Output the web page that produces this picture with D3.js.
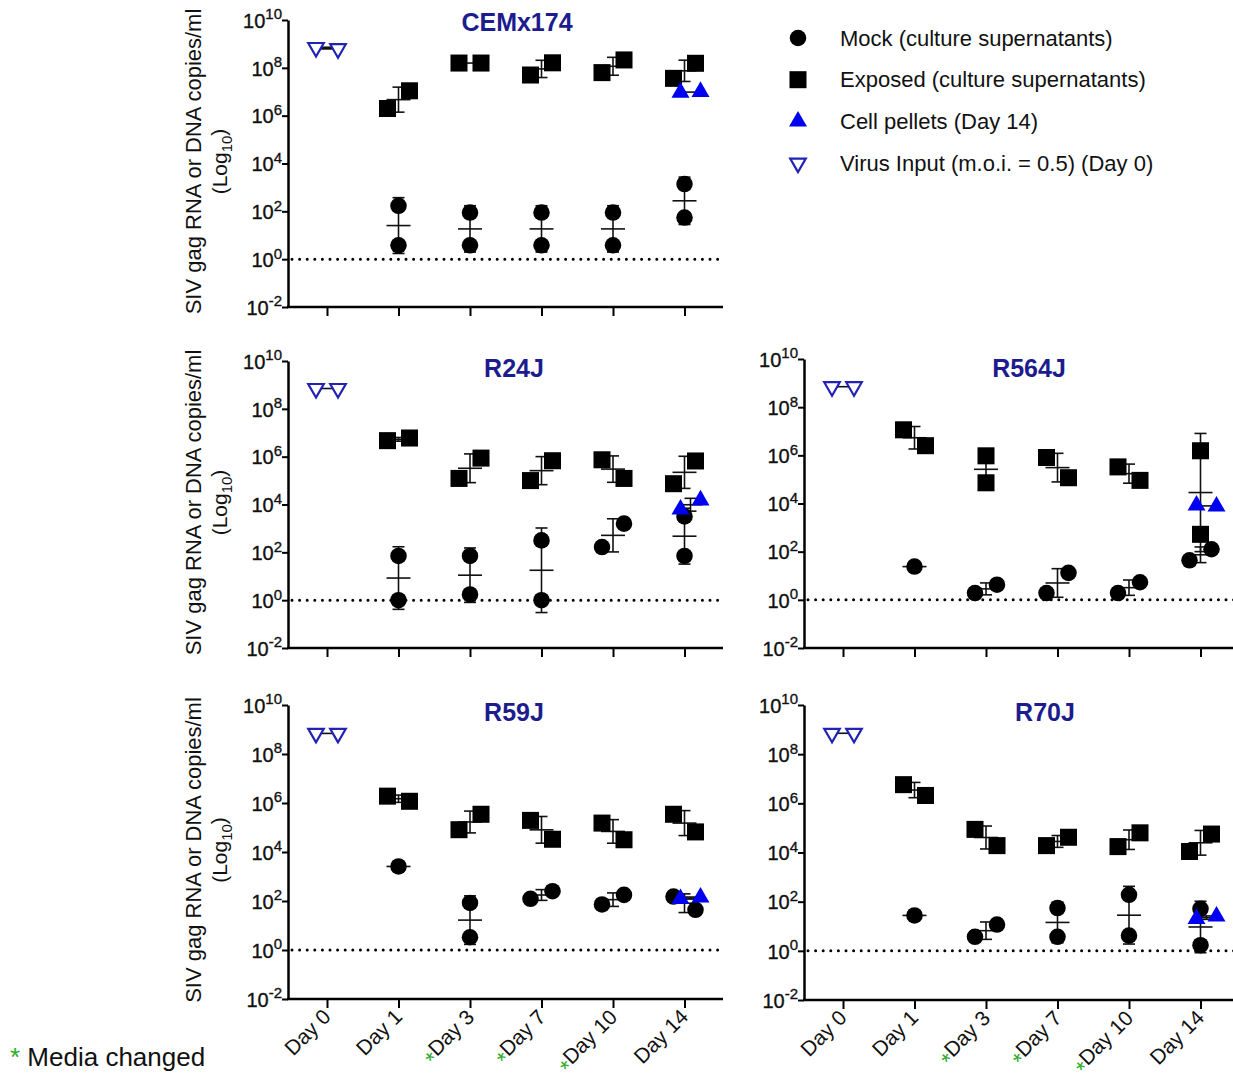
<!DOCTYPE html>
<html>
<head>
<meta charset="utf-8">
<script src="https://cdn.jsdelivr.net/npm/d3@7"></script>
<style>
  body { margin: 0; background: #fff; }
  text { font-family: Arial, "Liberation Sans", sans-serif; }
</style>
</head>
<body>
<script>
// values are log10 copies/ml
const days = ["Day 0", "Day 1", "Day 3", "Day 7", "Day 10", "Day 14"];
const mediaChanged = [false, false, true, true, true, false];
const sampleDays = ["Day 1", "Day 3", "Day 7", "Day 10", "Day 14"];
const yExponents = [-2, 0, 2, 4, 6, 8, 10];

const cemVirus = [8.85, 8.8];
const cemExposed = [[6.3, 7.04], [8.2, 8.2], [7.7, 8.21], [7.8, 8.33], [7.56, 8.19]];
const cemMock = [[2.23, 0.58], [1.95, 0.58], [1.95, 0.58], [1.95, 0.58], [3.14, 1.74]];
const cemPellets = [6.97, 7.0];

const r24jVirus = [8.85, 8.85];
const r24jExposed = [[6.67, 6.78], [5.09, 5.94], [5.0, 5.83], [5.87, 5.09], [4.87, 5.82]];
const r24jMock = [[1.85, 0.0], [1.85, 0.24], [2.5, 0.0], [2.22, 3.2], [3.5, 1.85]];
const r24jPellets = [3.8, 4.18];

const r564jVirus = [8.85, 8.85];
const r564jExposed = [[7.06, 6.4], [5.98, 4.86], [5.91, 5.07], [5.52, 4.96], [6.19, 2.72]];
const r564jMock = [[1.38], [0.28, 0.63], [0.28, 1.12], [0.28, 0.73], [1.64, 2.1]];
const r564jPellets = [3.92, 3.88];

const r59jVirus = [8.84, 8.84];
const r59jExposed = [[6.28, 6.07], [4.91, 5.54], [5.29, 4.52], [5.18, 4.5], [5.54, 4.82]];
const r59jMock = [[3.41], [1.92, 0.52], [2.09, 2.4], [1.86, 2.25], [2.18, 1.64]];
const r59jPellets = [2.09, 2.15];

const r70jVirus = [8.85, 8.85];
const r70jExposed = [[6.76, 6.32], [4.94, 4.28], [4.28, 4.62], [4.24, 4.8], [4.04, 4.75]];
const r70jMock = [[1.44], [0.57, 1.07], [1.74, 0.57], [2.28, 0.62], [1.71, 0.23]];
const r70jPellets = [1.3, 1.4];

const legendLabels = ["Mock (culture supernatants)", "Exposed (culture supernatants)",
                      "Cell pellets (Day 14)", "Virus Input (m.o.i. = 0.5) (Day 0)"];

const titleColor = "#1c1c8e";
const pelletColor = "#0000f0";
const virusColor = "#2222b4";
const green = "#2faa2f";

const svg = d3.select("body").append("svg")
  .attr("width", 1233).attr("height", 1080);

const panels = [
  {name: "CEMx174", x0: 288, top: 20, bottom: 307, tx: 517, ty: 31, yLab: true, xLab: false,
   virus: cemVirus, exposed: cemExposed, mock: cemMock, pellets: cemPellets},
  {name: "R24J", x0: 288, top: 361, bottom: 648, tx: 514, ty: 377, yLab: true, xLab: false,
   virus: r24jVirus, exposed: r24jExposed, mock: r24jMock, pellets: r24jPellets},
  {name: "R564J", x0: 804, top: 359, bottom: 648, tx: 1029, ty: 377, yLab: false, xLab: false,
   virus: r564jVirus, exposed: r564jExposed, mock: r564jMock, pellets: r564jPellets},
  {name: "R59J", x0: 288, top: 705, bottom: 999, tx: 514, ty: 721, yLab: true, xLab: true,
   virus: r59jVirus, exposed: r59jExposed, mock: r59jMock, pellets: r59jPellets},
  {name: "R70J", x0: 804, top: 705, bottom: 1000, tx: 1045, ty: 721, yLab: false, xLab: true,
   virus: r70jVirus, exposed: r70jExposed, mock: r70jMock, pellets: r70jPellets}
];

const circle = d3.symbol().type(d3.symbolCircle).size(215)();
const square = d3.symbol().type(d3.symbolSquare).size(290)();
const triangle = d3.symbol().type(d3.symbolTriangle).size(140)();
const openTriangle = d3.symbol().type(d3.symbolTriangle).size(105)();

// spread two replicates sideways when they would overlap
function spread(vals, cx, off) {
  if (vals.length === 2 && Math.abs(vals[0] - vals[1]) < 1.0) return [cx - off, cx + off];
  return vals.map(() => cx);
}

function errorBar(g, vals, cx, y) {
  const m = d3.mean(vals);
  g.append("line")
    .attr("x1", cx - 12).attr("x2", cx + 12)
    .attr("y1", y(10 ** m)).attr("y2", y(10 ** m));
  if (vals.length > 1) {
    const sd = d3.deviation(vals);
    if (sd > 0.03) {
      const hi = y(10 ** (m + sd)), lo = y(10 ** (m - sd));
      g.append("line").attr("x1", cx).attr("x2", cx).attr("y1", hi).attr("y2", lo);
      g.append("line").attr("x1", cx - 6).attr("x2", cx + 6).attr("y1", hi).attr("y2", hi);
      g.append("line").attr("x1", cx - 6).attr("x2", cx + 6).attr("y1", lo).attr("y2", lo);
    }
  }
}

panels.forEach(p => {
  const g = svg.append("g");
  const y = d3.scaleLog().domain([1e-2, 1e10]).range([p.bottom, p.top]);
  const x = d3.scalePoint().domain(days).range([p.x0 + 39, p.x0 + 39 + 5 * 71.5]);
  const xEnd = p.x0 + 435;

  // y axis
  const yg = g.append("g")
    .attr("transform", `translate(${p.x0},0)`)
    .call(d3.axisLeft(y).tickValues(yExponents.map(e => 10 ** e)).tickSize(6).tickSizeOuter(0).tickFormat(""));
  yg.select(".domain").attr("stroke-width", 2.5);
  yg.selectAll(".tick line").attr("stroke-width", 2);
  yg.selectAll(".tick text").remove();
  yg.selectAll(".tick").each(function(d) {
    const t = d3.select(this).append("text")
      .attr("x", -6).attr("dy", "0.36em")
      .attr("text-anchor", "end")
      .attr("fill", "#111").attr("font-size", 20)
      .attr("stroke", "#111").attr("stroke-width", 0.35)
      .attr("font-family", "Arial, 'Liberation Sans', sans-serif");
    t.append("tspan").text("10");
    t.append("tspan").attr("dy", "-0.55em").attr("font-size", 15).text(Math.round(Math.log10(d)));
  });

  // x axis
  const xg = g.append("g")
    .attr("transform", `translate(0,${p.bottom})`)
    .call(d3.axisBottom(x).tickSize(9).tickFormat(""));
  xg.select(".domain").remove();
  xg.selectAll(".tick line").attr("stroke-width", 2);
  g.append("line")
    .attr("x1", p.x0 - 1).attr("x2", xEnd)
    .attr("y1", p.bottom).attr("y2", p.bottom)
    .attr("stroke", "#000").attr("stroke-width", 2.5);

  // detection limit
  g.append("line")
    .attr("x1", p.x0 + 4).attr("x2", xEnd)
    .attr("y1", y(1)).attr("y2", y(1))
    .attr("stroke", "#000").attr("stroke-width", 3)
    .attr("stroke-linecap", "round").attr("stroke-dasharray", "0,7.6");

  // title
  g.append("text")
    .attr("x", p.tx).attr("y", p.ty)
    .attr("text-anchor", "middle")
    .attr("font-size", 25).attr("font-weight", "bold")
    .attr("fill", titleColor)
    .text(p.name);

  // error bars under the symbols
  const eg = g.append("g").attr("stroke", "#111").attr("stroke-width", 1.6);
  errorBar(eg, p.virus, x("Day 0"), y);
  sampleDays.forEach((d, i) => {
    errorBar(eg, p.exposed[i], x(d), y);
    errorBar(eg, p.mock[i], x(d), y);
  });
  errorBar(eg, p.pellets, x("Day 14") + 6, y);

  // virus input
  const vx = spread(p.virus, x("Day 0"), 11);
  g.selectAll(null).data(p.virus).join("path")
    .attr("d", openTriangle)
    .attr("transform", (v, j) => `translate(${vx[j]},${y(10 ** v)}) rotate(180)`)
    .attr("fill", "#fff").attr("stroke", virusColor).attr("stroke-width", 2.2);

  sampleDays.forEach((d, i) => {
    const ex = spread(p.exposed[i], x(d), 11);
    g.selectAll(null).data(p.exposed[i]).join("path")
      .attr("d", square)
      .attr("transform", (v, j) => `translate(${ex[j]},${y(10 ** v)})`)
      .attr("fill", "#000");
    const mx = spread(p.mock[i], x(d), 11);
    g.selectAll(null).data(p.mock[i]).join("path")
      .attr("d", circle)
      .attr("transform", (v, j) => `translate(${mx[j]},${y(10 ** v)})`)
      .attr("fill", "#000");
  });

  const px = spread(p.pellets, x("Day 14") + 6, 10);
  g.selectAll(null).data(p.pellets).join("path")
    .attr("d", triangle)
    .attr("transform", (v, j) => `translate(${px[j]},${y(10 ** v)})`)
    .attr("fill", pelletColor);

  // axis titles
  if (p.yLab) {
    const mid = (p.top + p.bottom) / 2 - 2;
    g.append("text")
      .attr("transform", `translate(193,${mid}) rotate(-90)`)
      .attr("text-anchor", "middle").attr("dy", "0.35em")
      .attr("font-size", 22).attr("fill", "#111")
      .text("SIV gag RNA or DNA copies/ml");
    const lt = g.append("text")
      .attr("transform", `translate(220,${mid}) rotate(-90)`)
      .attr("text-anchor", "middle").attr("dy", "0.35em")
      .attr("font-size", 21).attr("fill", "#111");
    lt.append("tspan").text("(Log");
    lt.append("tspan").attr("dy", "0.3em").attr("font-size", 15).text("10");
    lt.append("tspan").attr("dy", "-0.3em").text(")");
  }

  if (p.xLab) {
    days.forEach((d, i) => {
      const t = g.append("text")
        .attr("transform", `translate(${x(d) + 5},${p.bottom + 19}) rotate(-45)`)
        .attr("text-anchor", "end")
        .attr("font-size", 21).attr("fill", "#111");
      if (mediaChanged[i]) {
        t.append("tspan").attr("fill", green).attr("font-size", 23).attr("dy", "0.3em").text("*");
        t.append("tspan").attr("dy", "-0.3em").text(d);
      } else {
        t.append("tspan").text(d);
      }
    });
  }
});

// legend
const legendSymbols = [
  {d: circle, fill: "#000", stroke: "none", rot: 0},
  {d: square, fill: "#000", stroke: "none", rot: 0},
  {d: triangle, fill: pelletColor, stroke: "none", rot: 0},
  {d: openTriangle, fill: "#fff", stroke: virusColor, rot: 180}
];
const leg = svg.append("g").attr("transform", "translate(798,38)")
  .selectAll("g").data(legendLabels).join("g")
  .attr("transform", (d, i) => `translate(0,${i * 41.7})`);
leg.append("path")
  .attr("d", (d, i) => legendSymbols[i].d)
  .attr("transform", (d, i) => `rotate(${legendSymbols[i].rot})`)
  .attr("fill", (d, i) => legendSymbols[i].fill)
  .attr("stroke", (d, i) => legendSymbols[i].stroke)
  .attr("stroke-width", 2.2);
leg.append("text")
  .attr("x", 42).attr("dy", "0.35em")
  .attr("font-size", 22).attr("fill", "#111")
  .text(d => d);

// footnote
const note = svg.append("text")
  .attr("x", 10).attr("y", 1066)
  .attr("font-size", 26).attr("fill", "#111");
note.append("tspan").attr("fill", green).text("*");
note.append("tspan").text(" Media changed");
</script>
</body>
</html>
